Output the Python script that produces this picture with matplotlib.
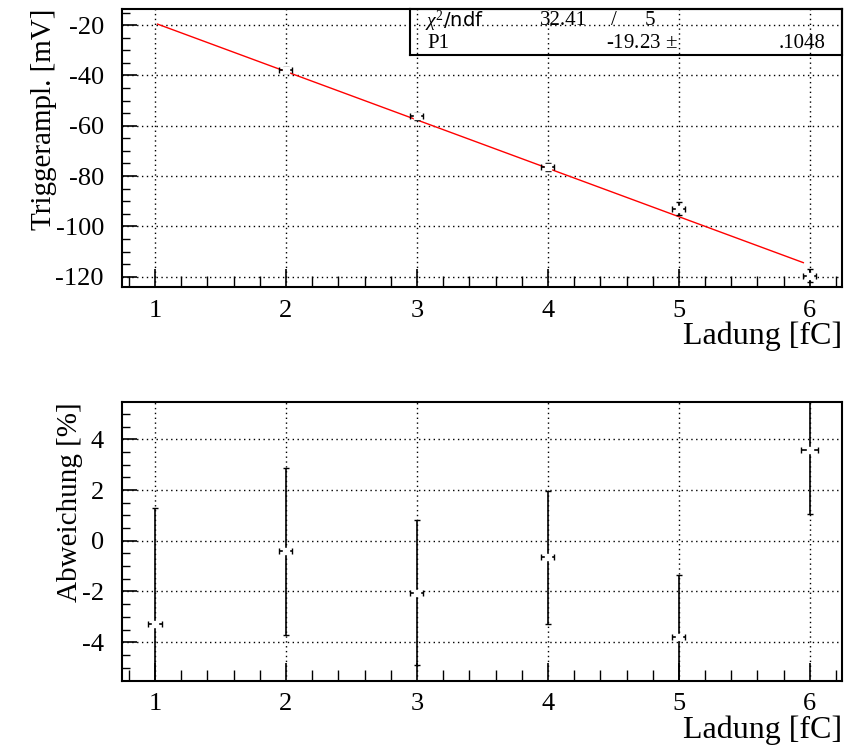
import matplotlib
matplotlib.use("Agg")
import matplotlib.pyplot as plt
import numpy as np

plt.rcParams['font.family'] = ['Liberation Serif', 'DejaVu Serif']
plt.rcParams['mathtext.fontset'] = 'custom'
plt.rcParams['mathtext.rm'] = 'Liberation Serif'
plt.rcParams['mathtext.it'] = 'Liberation Serif:italic'
plt.rcParams['axes.unicode_minus'] = False

# trigger amplitude vs. injected charge
ladung = [2, 3, 4, 5, 6]
trig_ampl = [-37.9, -56.3, -76.3, -92.9, -119.6]
trig_err = [1.2, 1.3, 1.6, 2.4, 2.6]
ladung_err = [0.05, 0.05, 0.05, 0.05, 0.05]

# fit results (straight line through origin)
p1 = -19.23
p1_err = 0.1048
chi2 = 32.41
ndf = 5
fit_range = [1.02, 5.95]

# relative deviation from the fit
dev_x = [1, 2, 3, 4, 5, 6]
dev = [-3.3, -0.42, -2.05, -0.66, -3.8, 3.56]
dev_err = [4.6, 3.3, 2.85, 2.64, 2.46, 2.5]
dev_xerr = [0.05, 0.05, 0.05, 0.05, 0.05, 0.065]

fig = plt.figure(figsize=(8.44, 7.49), dpi=100)
ax1 = fig.add_axes([0.1445, 0.6168, 0.8531, 0.3712])
ax2 = fig.add_axes([0.1445, 0.0908, 0.8531, 0.3725])

def paw_style(ax):
    ax.set_xlim(0.748, 6.245)
    ax.set_xticks([1, 2, 3, 4, 5, 6])
    ax.set_xticks(np.arange(0.8, 6.21, 0.2), minor=True)
    ax.tick_params(which='both', direction='in', top=False, right=False,
                   color='black', labelsize=19)
    ax.tick_params(axis='x', which='major', length=13, width=1.2, pad=9)
    ax.tick_params(axis='x', which='minor', length=8, width=1.0)
    ax.tick_params(axis='y', which='major', length=11, width=1.2, pad=13)
    ax.tick_params(axis='y', which='minor', length=6, width=1.0)
    ax.grid(True, which='major', color='black', linestyle=(0, (1, 2.5)), linewidth=1.0)
    for s in ax.spines.values():
        s.set_linewidth(1.5)
    ax.set_xlabel("Ladung [fC]", fontsize=23, loc='right', labelpad=0)

def err_points(ax, x, y, yerr, xerr):
    ax.errorbar(x, y, yerr=yerr, xerr=xerr, fmt='none', ecolor='black',
                elinewidth=1.2, capsize=2, capthick=1.0, zorder=3)
    # little white gap in the middle of each cross
    ax.plot(x, y, 's', ms=4.5, mfc='white', mec='white', zorder=4)

# ---- upper panel: amplitude with linear fit
paw_style(ax1)
ax1.set_ylim(-124.1, -13.6)
ax1.set_yticks([-120, -100, -80, -60, -40, -20])
ax1.set_yticks(np.arange(-120, -14, 5), minor=True)
ax1.set_ylabel("Triggerampl. [mV]", fontsize=21, loc='top', labelpad=-1)

xf = np.array(fit_range)
ax1.plot(xf, p1 * xf, color='red', linewidth=1.0, zorder=2)
err_points(ax1, ladung, trig_ampl, trig_err, ladung_err)

# fit statistics box
box = ax1.inset_axes([0.40, 0.835, 0.60, 0.165])
box.set_xlim(0, 1)
box.set_ylim(0, 1)
box.set_xticks([])
box.set_yticks([])
box.patch.set_facecolor('none')
for s in box.spines.values():
    s.set_linewidth(1.5)
fs = 15
box.text(0.035, 0.74, r"$\chi^2$/ndf", fontsize=fs - 1, family='DejaVu Sans',
         va='center', ha='left')
box.text(0.30, 0.74, f"{chi2:.2f}", fontsize=fs, va='center', ha='left')
box.text(0.466, 0.74, "/", fontsize=fs, va='center', ha='left')
box.text(0.543, 0.74, f"{ndf}", fontsize=fs, va='center', ha='left')
box.text(0.04, 0.25, "P1", fontsize=fs, va='center', ha='left')
box.text(0.62, 0.25, f"{p1:.2f} $\\pm$", fontsize=fs, va='center', ha='right')
box.text(0.963, 0.25, f"{p1_err:.4f}".lstrip('0'), fontsize=fs, va='center', ha='right')

# ---- lower panel: deviation in percent
paw_style(ax2)
ax2.set_ylim(-5.53, 5.47)
ax2.set_yticks([-4, -2, 0, 2, 4])
ax2.set_yticks(np.arange(-5.0, 5.3, 0.5), minor=True)
ax2.set_ylabel("Abweichung [%]", fontsize=21, loc='top', labelpad=-1)
err_points(ax2, dev_x, dev, dev_err, dev_xerr)

fig.savefig("out.png", dpi=100)
